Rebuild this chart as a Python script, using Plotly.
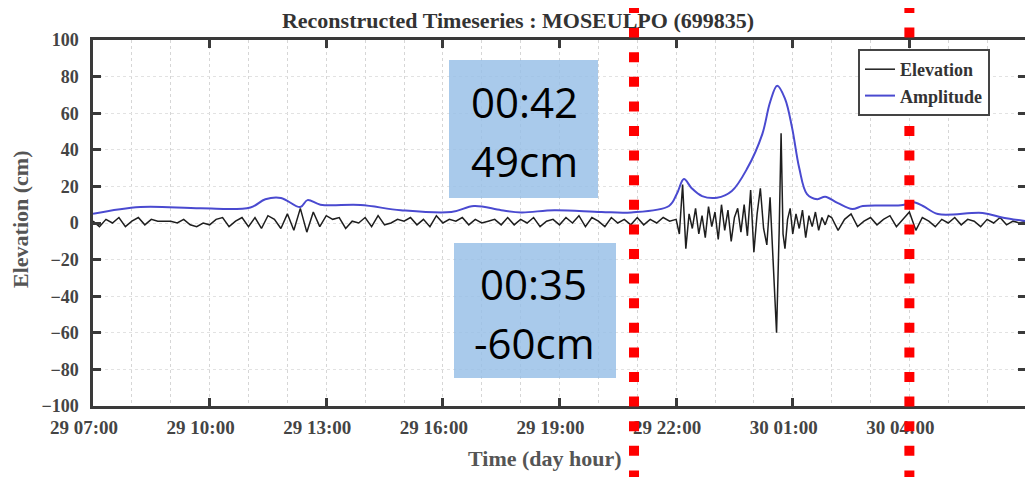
import pandas as pd
import plotly.graph_objects as go

# ---------------- data ----------------
start = pd.Timestamp("2020-01-29 07:00")

# Elevation (cm): minutes after 29 07:00
elev_quiet1_min = list(range(0, 900, 10))
elev_quiet1_cm = [
    1, -2, 2, 0, 3, -2,
    1, 3, -1, 2, 1, 1,
    1, 0, 2, -1, -2, 0,
    -1, 2, 3, -2, 1, 3,
    -2, 3, -3, 4, 2, -3,
    5, -4, 8, -5, 6, -2,
    4, 2, 3, -3, 1, 0,
    3, -2, 4, -1, 0, 2,
    1, 3, -1, 2, -2, 4,
    0, 2, 1, 3, -1, 2,
    0, 1, 2, -1, 3, -1,
    2, 0, 3, -2, 1, 2,
    -1, 3, 0, 4, -2, 3,
    1, -2, 3, 0, 2, -1,
    3, -1, 2, 0, 3, 1,
]
elev_active_min = [900, 905, 910, 915, 920, 925, 930, 935, 940, 945, 950, 955,
                   960, 965, 970, 975, 980, 985, 990, 995, 1000, 1005, 1010, 1015,
                   1020, 1025, 1030, 1035, 1040, 1045, 1050, 1055, 1059, 1062, 1065,
                   1068, 1072, 1076, 1080, 1085, 1090, 1095, 1100, 1105, 1110, 1115,
                   1120, 1125, 1130, 1135]
elev_active_cm = [2, -6, 21, -14, 5, -3, 8, -6, 4, -8, 9, -2,
                  6, -9, 10, -4, 7, -10, 3, 8, -5, 10, -7, 18,
                  -16, 5, 19, -3, -12, 14, -20, -60, -5, 49, -6,
                  -14, 2, 8, -6, 5, -3, 7, -8, 4, -2, 6,
                  -4, 3, -1, 4]
elev_quiet2_min = list(range(1140, 1441, 10))
elev_quiet2_cm = [
    3, -4, 2, 5, -2, 1,
    3, -1, 2, 4, -2, 2,
    6, -4, 3, 1, -2, 2,
    0, 3, -1, 2, 1, -2,
    2, 0, 3, -1, 1, 0,
    1,
]
elev_min = elev_quiet1_min + elev_active_min + elev_quiet2_min
elev_cm = elev_quiet1_cm + elev_active_cm + elev_quiet2_cm

# Amplitude envelope (cm)
amp_min = [0, 73, 166, 243, 266, 290, 320, 331, 351, 413, 475, 553, 588, 630,
           661, 712, 785, 831, 889, 901, 912, 924, 940, 963, 986, 1010, 1033,
           1045, 1056, 1068, 1079, 1090, 1102, 1118, 1130, 1149, 1172, 1188,
           1250, 1265, 1281, 1304, 1373, 1405, 1440]
amp_cm = [5, 8.7, 8, 8.5, 13, 13.7, 8.7, 12.5, 10, 9.8, 7, 6, 9.3, 7,
          5.8, 7, 6, 5.8, 9.3, 15.8, 24, 19, 14.7, 13.8, 17.5, 30, 48.6,
          66, 75, 68, 52, 30, 15.8, 13, 14.4, 11, 7.6, 9.3,
          9.8, 11.5, 9.3, 4.9, 5.5, 2.9, 1]

marker_times = ["2020-01-29 20:55", "2020-01-30 04:00"]
box_lines = [["00:42", "49cm"], ["00:35", "-60cm"]]

elev_t = [start + pd.Timedelta(minutes=m) for m in elev_min]
amp_t = [start + pd.Timedelta(minutes=m) for m in amp_min]

serif = "Liberation Serif, Times New Roman, serif"
axis_col = "#3a3a3a"

fig = go.Figure()
fig.add_trace(go.Scatter(x=elev_t, y=elev_cm, mode="lines", name="Elevation",
                         line=dict(color="#1e1e1e", width=1.5)))
fig.add_trace(go.Scatter(x=amp_t, y=amp_cm, mode="lines", name="Amplitude",
                         line=dict(color="#4a4ad0", width=2), line_shape="spline"))

# page has an 8px body margin: figure is drawn at (8, 8)
OFF = 8
W, H = 1033 - OFF, 477 - OFF
PL, PR, PT, PB = 93, 1026, 40, 406          # plot area in page pixels
L, T = PL - OFF, PT - OFF
R = W - (PR - OFF)
B = H - (PB - OFF)
pw, ph = PR - PL, PB - PT

def px_x(px):
    return (px - PL) / pw

def px_y(py):
    return (PB - py) / ph

shapes = []
# blue boxes
shapes.append(dict(type="rect", xref="paper", yref="paper",
                   x0=px_x(449), x1=px_x(598), y0=px_y(198), y1=px_y(60),
                   fillcolor="rgba(150,190,230,0.82)", line=dict(width=0), layer="above"))
shapes.append(dict(type="rect", xref="paper", yref="paper",
                   x0=px_x(454), x1=px_x(616), y0=px_y(378), y1=px_y(243),
                   fillcolor="rgba(150,190,230,0.82)", line=dict(width=0), layer="above"))
# red dotted lines
for t in marker_times:
    shapes.append(dict(type="line", xref="x", yref="paper", x0=t, x1=t,
                       y0=px_y(3), y1=px_y(480),
                       line=dict(color="#ff0000", width=10, dash="10px,14.6px"),
                       layer="above"))

box_font = dict(family="Open Sans, Lato, sans-serif", size=42, color="#000")
box_pos = [[(524, 102), (524, 160)], [(533, 283), (534, 342)]]
annotations = []
for lines, poss in zip(box_lines, box_pos):
    for txt, (bx, by) in zip(lines, poss):
        annotations.append(dict(text=txt, xref="paper", yref="paper", x=px_x(bx), y=px_y(by),
                                showarrow=False, font=box_font,
                                xanchor="center", yanchor="middle"))
annotations += [
    dict(text="<b>Time (day hour)</b>", xref="paper", yref="paper", x=px_x(545), y=px_y(458),
         showarrow=False, font=dict(family=serif, size=22, color="#555"),
         xanchor="center", yanchor="middle"),
    dict(text="<b>Elevation (cm)</b>", xref="paper", yref="paper", x=px_x(20), y=px_y(220),
         showarrow=False, textangle=-90, font=dict(family=serif, size=22, color="#555"),
         xanchor="center", yanchor="middle"),
]

fig.update_layout(
    width=W, height=H,
    margin=dict(l=L, r=R, t=T, b=B, autoexpand=False),
    paper_bgcolor="white", plot_bgcolor="white",
    title=dict(text="<b>Reconstructed Timeseries : MOSEULPO (699835)</b>",
               x=(518 - OFF) / W, xanchor="center", y=1 - (20 - OFF) / H, yanchor="middle",
               font=dict(family=serif, size=22, color="#333")),
    shapes=shapes, annotations=annotations,
    legend=dict(x=px_x(858), y=px_y(49), xanchor="left", yanchor="top",
                bgcolor="white", bordercolor="#444", borderwidth=2,
                font=dict(family=serif, size=18, color="#333", weight="bold"),
                tracegroupgap=0),
    showlegend=True,
)

fig.update_xaxes(
    type="date", range=[start, start + pd.Timedelta(hours=24)], automargin=False,
    tick0="2020-01-29 07:00", dtick=3 * 3600000, tickformat="%d %H:%M",
    ticks="inside", ticklen=8, tickwidth=2.5, tickcolor=axis_col,
    showline=True, linewidth=2.5, linecolor=axis_col, mirror="ticks",
    showgrid=True, gridcolor="#d6d6d6", griddash="dot", gridwidth=1,
    minor=dict(dtick=3600000, showgrid=True, gridcolor="#d6d6d6", griddash="dot", gridwidth=1),
    tickfont=dict(family=serif, size=19, color="#444", weight="bold"),
    ticklabelshift=-9, ticklabelstandoff=2,
    zeroline=False,
)
fig.update_yaxes(
    range=[-100, 100], dtick=20, tick0=0, automargin=False,
    ticks="inside", ticklen=8, tickwidth=2.5, tickcolor=axis_col,
    showline=True, linewidth=2.5, linecolor=axis_col, mirror="ticks",
    showgrid=True, gridcolor="#e2e2e2", griddash="dot", gridwidth=1,
    tickfont=dict(family=serif, size=18, color="#444", weight="bold"),
    ticklabelstandoff=8,
    zeroline=False,
)

fig.write_html("out.html")
